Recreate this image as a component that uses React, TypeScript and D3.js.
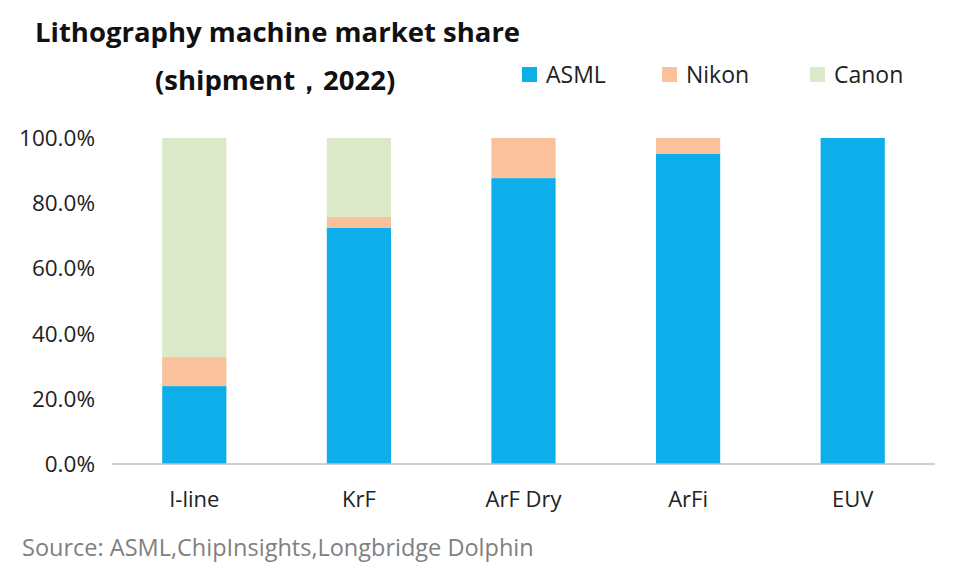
import * as d3 from "d3";

const categories = ["I-line", "KrF", "ArF Dry", "ArFi", "EUV"];
const asml = [0.239, 0.724, 0.877, 0.951, 1.0];
const nikon = [0.089, 0.034, 0.123, 0.049, 0.0];
const canon = [0.672, 0.242, 0.0, 0.0, 0.0];
const seriesNames = ["ASML", "Nikon", "Canon"];
const colors = ["#0EAEEA", "#F9C29C", "#DCE9C8"];
const yTicks = [0, 0.2, 0.4, 0.6, 0.8, 1.0];

const W = 960, H = 578;
const m = { left: 112, right: 935, top: 138, bottom: 464 };
const font = "'Open Sans', 'DejaVu Sans', sans-serif";

export default function App() {
  const x = d3.scaleBand().domain(categories).range([m.left, m.right]).paddingInner(0.61).paddingOuter(0.305);
  const y = d3.scaleLinear().domain([0, 1]).range([m.bottom, m.top]);
  const rows = categories.map((c, i) => ({ c, ASML: asml[i], Nikon: nikon[i], Canon: canon[i] }));
  const stacked = d3.stack<any>().keys(seriesNames)(rows);

  return (
    <svg width={W} height={H} style={{ position: "absolute", left: 0, top: 0, background: "#fff" }}>
      <text x={35} y={42} fontSize={27.5} fontWeight={700} fontFamily={font} fill="#111">Lithography machine market share</text>
      <text x={155} y={90} fontSize={27.5} fontWeight={700} fontFamily={font} fill="#111">(shipment，2022)</text>
      {seriesNames.map((s, i) => {
        const lx = [522, 662, 810][i];
        return (
          <g key={s}>
            <rect x={lx} y={67} width={15} height={15} fill={colors[i]} />
            <text x={lx + 24} y={83} fontSize={23} fontFamily={font} fill="#222">{s}</text>
          </g>
        );
      })}
      {stacked.map((layer, si) => (
        <g key={si} fill={colors[si]}>
          {layer.map((d, i) => (
            <rect key={i} x={x(categories[i])!} width={x.bandwidth()} y={y(d[1])} height={Math.max(0, y(d[0]) - y(d[1]))} />
          ))}
        </g>
      ))}
      <line x1={m.left} x2={m.right} y1={m.bottom} y2={m.bottom} stroke="#bfbfbf" strokeWidth={1.5} />
      {yTicks.map((t) => (
        <text key={t} x={95} y={y(t) + 8} textAnchor="end" fontSize={22.5} fontFamily={font} fill="#222">
          {(t * 100).toFixed(1)}%
        </text>
      ))}
      {categories.map((c) => (
        <text key={c} x={x(c)! + x.bandwidth() / 2} y={507} textAnchor="middle" fontSize={22} fontFamily={font} fill="#222">{c}</text>
      ))}
      <text x={22} y={556} fontSize={23.5} fontFamily={font} fill="#808080">Source: ASML,ChipInsights,Longbridge Dolphin</text>
    </svg>
  );
}
